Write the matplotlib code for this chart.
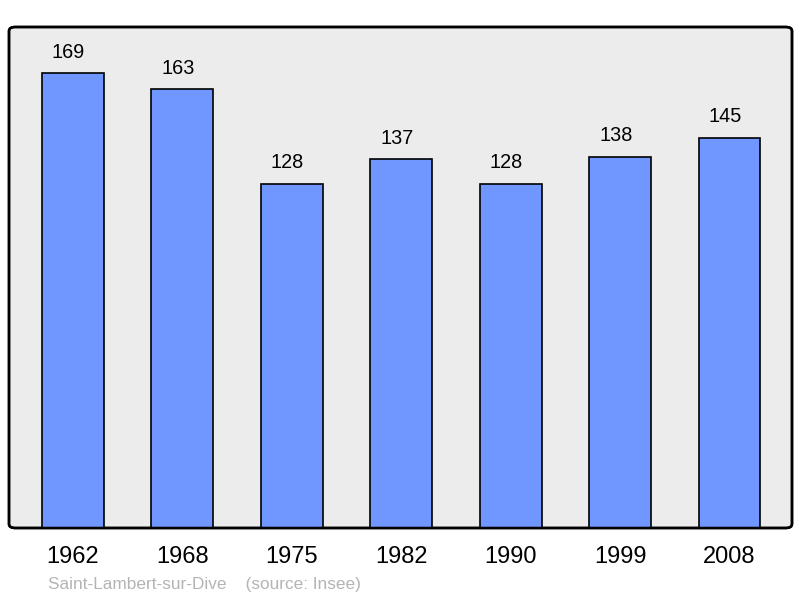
import matplotlib
matplotlib.use('Agg')
import matplotlib.pyplot as plt
from matplotlib.patches import FancyBboxPatch

years = ['1962', '1968', '1975', '1982', '1990', '1999', '2008']
population = [169, 163, 128, 137, 128, 138, 145]

plt.rcParams['font.family'] = ['Liberation Sans', 'DejaVu Sans']

fig = plt.figure(figsize=(8, 5.98), dpi=100)
ax = fig.add_axes([9 / 800, 70 / 598, 783 / 800, 501 / 598])
ax.set_facecolor('none')

x = list(range(len(years)))
ax.bar(x, population, width=0.566, color='#7096ff', edgecolor='black', linewidth=1.2, zorder=2)
for xi, v in zip(x, population):
    ax.text(xi - 0.04, v + 4.3, str(v), ha='center', va='bottom', fontsize=14.3, color='black')

ax.set_xlim(-0.584, 6.571)
ax.set_ylim(0, 186.2)
ax.set_xticks(x)
ax.set_xticklabels(years, fontsize=17)
ax.tick_params(axis='x', length=0, pad=13)
ax.set_yticks([])
for s in ax.spines.values():
    s.set_visible(False)

# rounded frame
frame = FancyBboxPatch((0, 0), 1, 1, boxstyle='round,pad=0,rounding_size=0.008',
                       transform=ax.transAxes, facecolor='#ececec', edgecolor='black',
                       linewidth=1.8, zorder=0, clip_on=False)
ax.add_patch(frame)
border = FancyBboxPatch((0, 0), 1, 1, boxstyle='round,pad=0,rounding_size=0.008',
                        transform=ax.transAxes, facecolor='none', edgecolor='black',
                        linewidth=1.8, zorder=3, clip_on=False)
ax.add_patch(border)

fig.text(48 / 800, 1 - 585 / 598, 'Saint-Lambert-sur-Dive    (source: Insee)',
         fontsize=12.4, color='#b4b4b4', ha='left', va='center')

fig.savefig('out.png', dpi=100)
